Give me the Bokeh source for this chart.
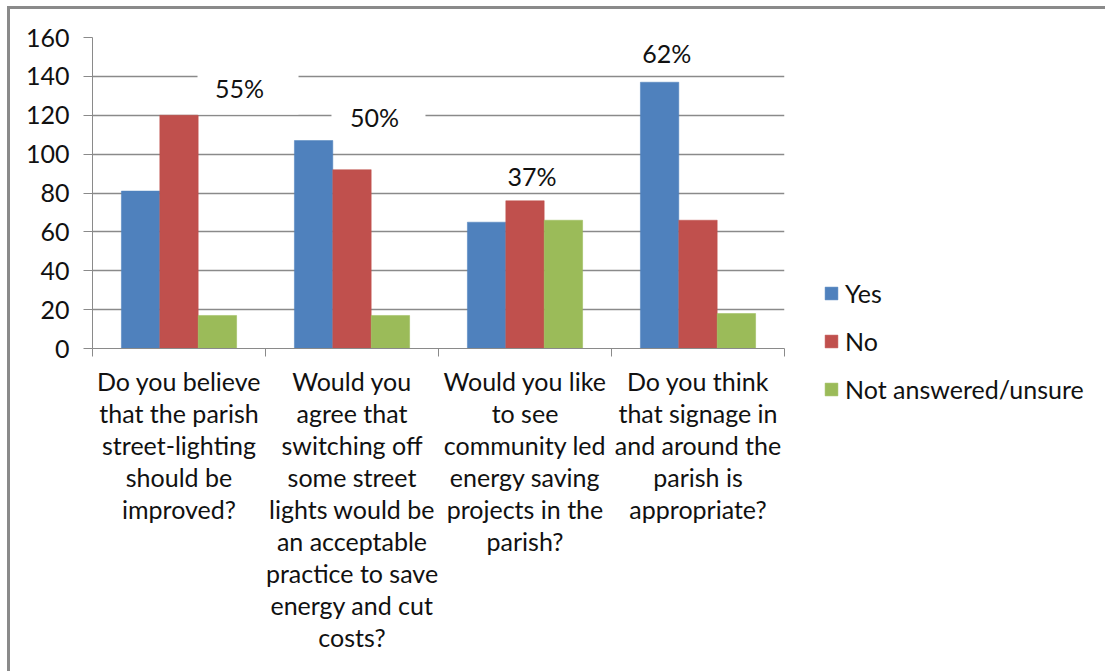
from bokeh.plotting import figure
from bokeh.models import (FixedTicker, Range1d, Legend, LegendItem,
                          ColumnDataSource, LabelSet)
from bokeh.core.properties import value
from bokeh.embed import file_html
from bokeh.resources import INLINE

# ---- data ----
questions = [
    "Do you believe\nthat the parish\nstreet-lighting\nshould be\nimproved?",
    "Would you\nagree that\nswitching off\nsome street\nlights would be\nan acceptable\npractice to save\nenergy and cut\ncosts?",
    "Would you like\nto see\ncommunity led\nenergy saving\nprojects in the\nparish?",
    "Do you think\nthat signage in\nand around the\nparish is\nappropriate?",
]
series_names = ["Yes", "No", "Not answered/unsure"]
yes_vals = [81, 107, 65, 137]
no_vals = [120, 92, 76, 66]
na_vals = [17, 17, 66, 18]
pct_labels = ["55%", "50%", "37%", "62%"]
pct_x = [0.85, 1.63, 2.54, 3.32]
pct_y = [134, 119, 89, 152]
y_ticks = [0, 20, 40, 60, 80, 100, 120, 140, 160]

colors = ["#4F81BD", "#C0504D", "#9BBB59"]
FONT = "Lato"
FS = "25px"
GRAY = "#8a8a8a"

p = figure(frame_width=692, frame_height=311, output_backend="svg", toolbar_location=None,
           x_range=Range1d(0, 4), y_range=Range1d(0, 160),
           min_border_left=92, min_border_right=321, min_border_top=37,
           min_border_bottom=323)
p.outline_line_color = None
p.background_fill_color = "white"
p.border_fill_alpha = 0
p.styles = {
    "background-color": "white",
    "background-image": f"linear-gradient({GRAY},{GRAY}), linear-gradient({GRAY},{GRAY})",
    "background-size": "3px 100%, 100% 3px",
    "background-position": "7px 6px, 7px 6px",
    "background-repeat": "no-repeat",
}

# grid
p.xgrid.grid_line_color = None
p.ygrid.grid_line_color = GRAY
p.ygrid.grid_line_width = 1.3
p.ygrid.ticker = FixedTicker(ticks=y_ticks)

# y axis
p.yaxis.ticker = FixedTicker(ticks=y_ticks)
p.yaxis.axis_line_color = GRAY
p.yaxis.major_tick_line_color = GRAY
p.yaxis.major_tick_out = 9
p.yaxis.major_tick_in = 0
p.yaxis.minor_tick_line_color = None
p.yaxis.major_label_standoff = 14
p.yaxis.major_label_text_font = FONT
p.yaxis.major_label_text_font_size = FS
p.yaxis.major_label_text_color = "#111111"

# x axis
centers = [i + 0.5 for i in range(len(questions))]
p.xaxis.ticker = FixedTicker(ticks=centers, minor_ticks=[0, 1, 2, 3, 4])
p.xaxis.major_label_overrides = {c: q for c, q in zip(centers, questions)}
p.xaxis.axis_line_color = GRAY
p.xaxis.major_tick_line_color = None
p.xaxis.minor_tick_line_color = GRAY
p.xaxis.minor_tick_out = 8
p.xaxis.minor_tick_in = 0
p.xaxis.major_tick_out = 0
p.xaxis.major_tick_in = 0
p.xaxis.major_label_standoff = 9
p.xaxis.major_label_text_font = FONT
p.xaxis.major_label_text_font_size = FS
p.xaxis.major_label_text_color = "#111111"
p.xaxis.major_label_text_line_height = 1.07
p.xaxis.major_label_text_align = "center"

# white masks behind two percentage labels (as in the original)
p.rect(x=[0.899, 1.653], y=[132.7, 118.8], width=[101, 94], height=[48, 38],
       width_units="screen", height_units="screen",
       fill_color="white", line_color=None)

bw = 0.222
offsets = [-bw, 0, bw]
renderers = []
for vals, col, off in zip([yes_vals, no_vals, na_vals], colors, offsets):
    r = p.vbar(x=[c + off for c in centers], top=vals, width=bw, bottom=0,
               fill_color=col, line_color=col, line_width=0.5)
    renderers.append(r)

src = ColumnDataSource(dict(x=pct_x, y=pct_y, t=pct_labels))
p.add_layout(LabelSet(x="x", y="y", text="t", source=src, text_align="center",
                      text_baseline="middle", text_font=value(FONT),
                      text_font_size=value(FS), text_color="#111111"))

legend = Legend(items=[LegendItem(label=n, renderers=[r]) for n, r in zip(series_names, renderers)],
                location=(39, -56), orientation="vertical",
                glyph_width=16, glyph_height=16, label_standoff=6,
                label_text_font=FONT, label_text_font_size=FS, label_text_color="#111111",
                spacing=18, padding=0, margin=0,
                border_line_color=None, background_fill_alpha=0)
p.add_layout(legend, "right")

open("out.html", "w").write(file_html(p, INLINE))
